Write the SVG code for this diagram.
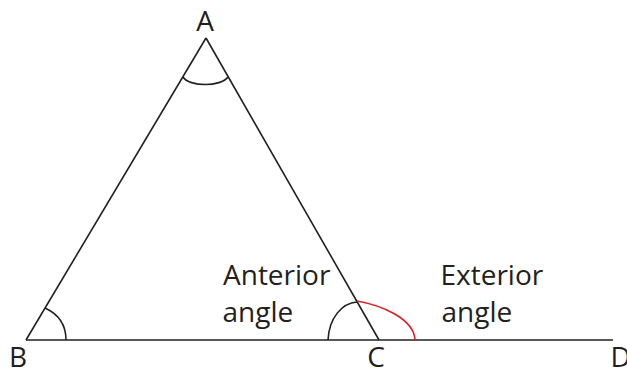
<svg xmlns="http://www.w3.org/2000/svg" width="627" height="369" viewBox="0 0 627 369">
  <style>
    .ln { stroke: #231f20; stroke-width: 1.6; fill: none; stroke-linecap: butt; }
    .arc { stroke: #231f20; stroke-width: 1.6; fill: none; }
    .ext { stroke: #e41e26; stroke-width: 1.6; fill: none; }
    .lbl { font-family: "Open Sans", "Noto Sans", "Liberation Sans", sans-serif; font-size: 28px; fill: #231f20; }
  </style>
  <rect width="627" height="369" fill="#ffffff"/>
  <g id="connectors">
    <line class="ln" x1="206" y1="38" x2="26" y2="340"/>
    <line class="ln" x1="206" y1="38" x2="379" y2="340"/>
    <line class="ln" x1="26" y1="340" x2="613" y2="340"/>
  </g>
  <g id="angles">
    <path id="angle-A" class="arc" d="M183,77 C189,87 221,87 228,77"/>
    <path id="angle-B" class="arc" d="M45,308 C56,313 66,322 66,340"/>
    <path id="angle-C-interior" class="arc" d="M357,302 C342,303 329,318 328,340"/>
    <path id="angle-C-exterior" class="ext" d="M357,301 C380,305 414,318 415,340"/>
  </g>
  <g id="node-A"><text class="lbl" x="205" y="31" text-anchor="middle">A</text></g>
  <g id="node-B"><text class="lbl" x="18" y="367" text-anchor="middle">B</text></g>
  <g id="node-C"><text class="lbl" x="376" y="367" text-anchor="middle">C</text></g>
  <g id="node-D"><text class="lbl" x="610.5" y="367">D</text></g>
  <g id="label-anterior">
    <text class="lbl" x="223" y="285">Anterior</text>
    <text class="lbl" x="222.5" y="322">angle</text>
  </g>
  <g id="label-exterior">
    <text class="lbl" x="440.5" y="285">Exterior</text>
    <text class="lbl" x="441.5" y="322">angle</text>
  </g>
</svg>
